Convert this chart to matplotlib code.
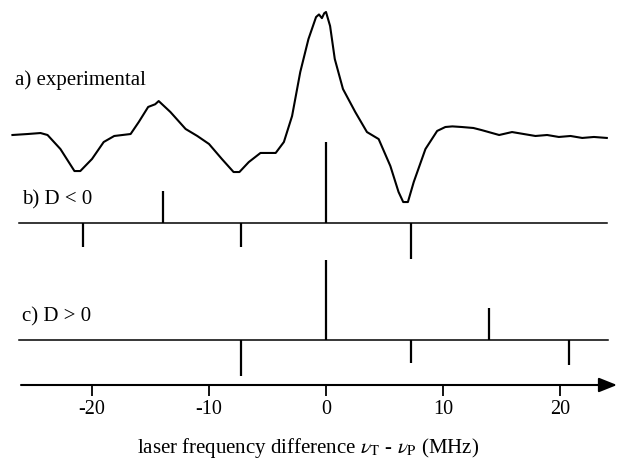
import matplotlib
matplotlib.use("Agg")
import matplotlib.pyplot as plt
import numpy as np

# ---------------- data ----------------
# experimental trace: frequency (MHz) and relative signal (peak = 1)
exp_freq = [-26.8, -25.5, -24.4, -23.8, -22.7, -21.5, -21.0, -20.0, -19.0, -18.1,
            -16.7, -16.0, -15.2, -14.6, -14.3, -13.3, -12.0, -11.0, -10.0, -8.9,
            -7.9, -7.4, -6.6, -5.6, -4.3, -3.6, -2.9, -2.2, -1.5, -0.85,
            -0.6, -0.35, -0.15, 0.0, 0.35, 0.75, 1.45, 2.5, 3.5, 4.5,
            5.5, 6.2, 6.6, 7.0, 7.5, 8.5, 9.5, 10.2, 10.8, 11.6,
            12.6, 13.3, 14.2, 14.8, 15.9, 16.9, 17.9, 18.9, 19.9, 20.9,
            21.9, 22.9, 24.0]
exp_signal = [0.000, 0.008, 0.016, 0.000, -0.114, -0.293, -0.293, -0.195, -0.057, -0.008,
              0.008, 0.106, 0.228, 0.250, 0.276, 0.187, 0.049, -0.008, -0.073, -0.195,
              -0.301, -0.301, -0.220, -0.146, -0.146, -0.057, 0.154, 0.512, 0.780, 0.959,
              0.980, 0.950, 0.990, 1.000, 0.886, 0.618, 0.374, 0.187, 0.024, -0.033,
              -0.252, -0.463, -0.545, -0.545, -0.382, -0.114, 0.033, 0.065, 0.070, 0.065,
              0.057, 0.040, 0.016, 0.000, 0.024, 0.008, -0.008, 0.000, -0.016, -0.008,
              -0.024, -0.016, -0.024]

# stick spectra: positions (MHz) and relative intensities
b_pos = [-20.8, -13.9, -7.3, 0, 7.3]
b_int = [-0.30, 0.40, -0.30, 1.00, -0.44]
c_pos = [-7.3, 0, 7.3, 13.9, 20.8]
c_int = [-0.45, 0.99, -0.29, 0.40, -0.31]

tick_vals = [-20, -10, 0, 10, 20]
tick_labels = ["-20", "-10", "0", "10", "20"]

# ---------------- layout ----------------
W, H = 618, 464
X0_PX, PX_PER_MHZ = 326.0, 11.70
def mhz(px):
    return (px - X0_PX) / PX_PER_MHZ

Y_A, A_SCALE = 328, 123
Y_B, Y_C, S_SCALE = 240, 123, 81
Y_AX = 78

plt.rcParams['font.family'] = ['Liberation Serif', 'DejaVu Serif']
plt.rcParams['mathtext.fontset'] = 'stix'

fig = plt.figure(figsize=(W / 100, H / 100), dpi=100)
ax = fig.add_axes([0, 0, 1, 1])
ax.set_xlim(mhz(0), mhz(W))
ax.set_ylim(0, H)
ax.axis('off')

# a) experimental trace
ax.plot(exp_freq, Y_A + A_SCALE * np.array(exp_signal), color='black', lw=1.5,
        solid_joinstyle='round')
ax.text(mhz(15), 384, "a) experimental", fontsize=15, va='center', ha='left')

# b) D < 0
ax.plot([mhz(19), mhz(607)], [Y_B, Y_B], color='black', lw=1.1)
ax.vlines(b_pos, Y_B, Y_B + S_SCALE * np.array(b_int), color='black', lw=1.6)
ax.text(mhz(22), 264, "b) D < 0", fontsize=15, va='center', ha='left')

# c) D > 0
ax.plot([mhz(19), mhz(608)], [Y_C, Y_C], color='black', lw=1.1)
ax.vlines(c_pos, Y_C, Y_C + S_SCALE * np.array(c_int), color='black', lw=1.6)
ax.text(mhz(22), 147, "c) D > 0", fontsize=15, va='center', ha='left')

# frequency axis with arrow
ax.annotate('', xy=(mhz(617), Y_AX), xytext=(mhz(21), Y_AX),
            arrowprops=dict(arrowstyle='-|>,head_length=0.55,head_width=0.22',
                            mutation_scale=20, lw=1.5, color='black',
                            shrinkA=0, shrinkB=0))
ax.vlines(tick_vals, Y_AX - 11, Y_AX, color='black', lw=1.3)
for v, lab in zip(tick_vals, tick_labels):
    ax.text(v, 54, lab, fontsize=14.5, ha='center', va='center')

ax.text(mhz(308), 4,
        r"laser frequency difference $\nu_{\mathrm{T}}$ - $\nu_{\mathrm{P}}$ (MHz)",
        fontsize=15, ha='center', va='bottom')

fig.savefig("out.png", dpi=100)
